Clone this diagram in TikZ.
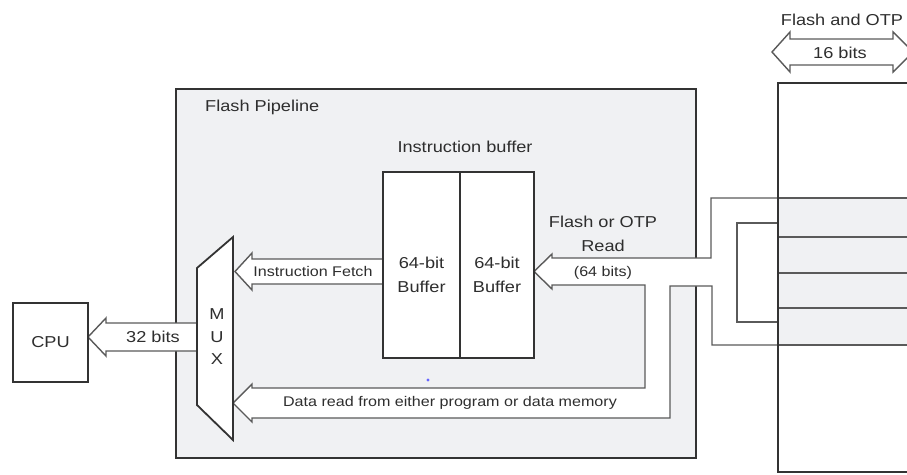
\documentclass[tikz,border=0pt]{standalone}
\usepackage{fontspec}
\setmainfont{Liberation Sans}[FakeStretch=1.15]
\usetikzlibrary{positioning}
\definecolor{edge}{HTML}{333333}
\definecolor{wiregray}{HTML}{5A5A5A}
\definecolor{panel}{HTML}{F0F1F3}
\definecolor{ink}{HTML}{2E2E2E}

\begin{document}
\begin{tikzpicture}[
  x=1pt, y=-1pt,
  box/.style={draw=edge, line width=1.8pt, fill=white, inner sep=0pt, outer sep=0pt},
  wire/.style={draw=wiregray, line width=1.4pt, fill=white, line join=miter},
  bigtxt/.style={font=\fontsize{15.8}{24}\selectfont, text=ink, align=center, inner sep=0pt},
  smalltxt/.style={font=\fontsize{14}{18}\selectfont, text=ink, align=center, inner sep=0pt}
]
\useasboundingbox (0,0) rectangle (907,474);

% pipeline frame
\node[box, fill=panel, anchor=north west, minimum width=520pt, minimum height=369pt] (pipe) at (176,89) {};
\node[bigtxt, anchor=west] (pipetitle) at (205,107) {Flash Pipeline};

% flash / otp rows and read bus
\fill[panel] (778,198) rectangle (910,345);
\filldraw[wire] (778,198) -- (711,198) -- (711,258) -- (552,258) -- (552,254) -- (534,271.5) -- (552,289) -- (552,285)
  -- (645,285) -- (645,388) -- (252,388) -- (252,384) -- (233,403) -- (252,422) -- (252,418)
  -- (670,418) -- (670,286) -- (712,286) -- (712,345) -- (778,345);
\draw[wire, fill=none] (778,223) -- (737,223) -- (737,322) -- (778,322);
\foreach \y in {198,237,273,308,345}
  \draw[wire] (778,\y) -- (910,\y);
\node[box, fill=none, anchor=north west, minimum width=200pt, minimum height=389pt] (mem) at (778,83) {};

% 16-bit port
\filldraw[wire] (772,52) -- (790,32) -- (790,39) -- (893,39) -- (893,32) -- (913,52) -- (893,72) -- (893,65)
  -- (790,65) -- (790,72) -- cycle;
\node[bigtxt] (flashotp) at (842,20) {Flash and OTP};
\node[bigtxt] (bits16) at (840,53) {16 bits};

% instruction buffer
\node[bigtxt] (ibuftitle) at (465,147) {Instruction buffer};
\filldraw[wire] (383,259) -- (252,259) -- (252,253) -- (235,271.5) -- (252,290) -- (252,284) -- (383,284);
\node[box, anchor=north west, minimum width=77pt, minimum height=186pt] (bufa) at (383,172) {};
\node[box, anchor=north west, minimum width=74pt, minimum height=186pt] (bufb) at (460,172) {};
\node[bigtxt] (bufatext) at (421.5,275) {64-bit\\Buffer};
\node[bigtxt] (bufbtext) at (497,275) {64-bit\\Buffer};

\node[bigtxt] (readlbl) at (603,234) {Flash or OTP\\Read};
\node[smalltxt] (bits64) at (603,273) {(64 bits)};
\node[smalltxt] (fetchlbl) at (313,271.5) {Instruction Fetch};
\node[smalltxt] (datalbl) at (450,403) {Data read from either program or data memory};
\fill[blue!60] (428,380) circle (1.6);

% cpu side
\filldraw[wire] (197,323) -- (106,323) -- (106,318) -- (88,337) -- (106,356) -- (106,351) -- (197,351);
\node[bigtxt] (bits32) at (153,337) {32 bits};
\node[box, anchor=north west, minimum width=75pt, minimum height=79pt, font=\fontsize{15.8}{24}\selectfont, text=ink] (cpu) at (13,303) {CPU};

% mux
\draw[box] (197,268) -- (233,237) -- (233,440) -- (197,405) -- cycle;
\node[bigtxt, font=\fontsize{15.8}{22.5}\selectfont] (muxlbl) at (217,337) {M\\U\\X};
\end{tikzpicture}
\end{document}
